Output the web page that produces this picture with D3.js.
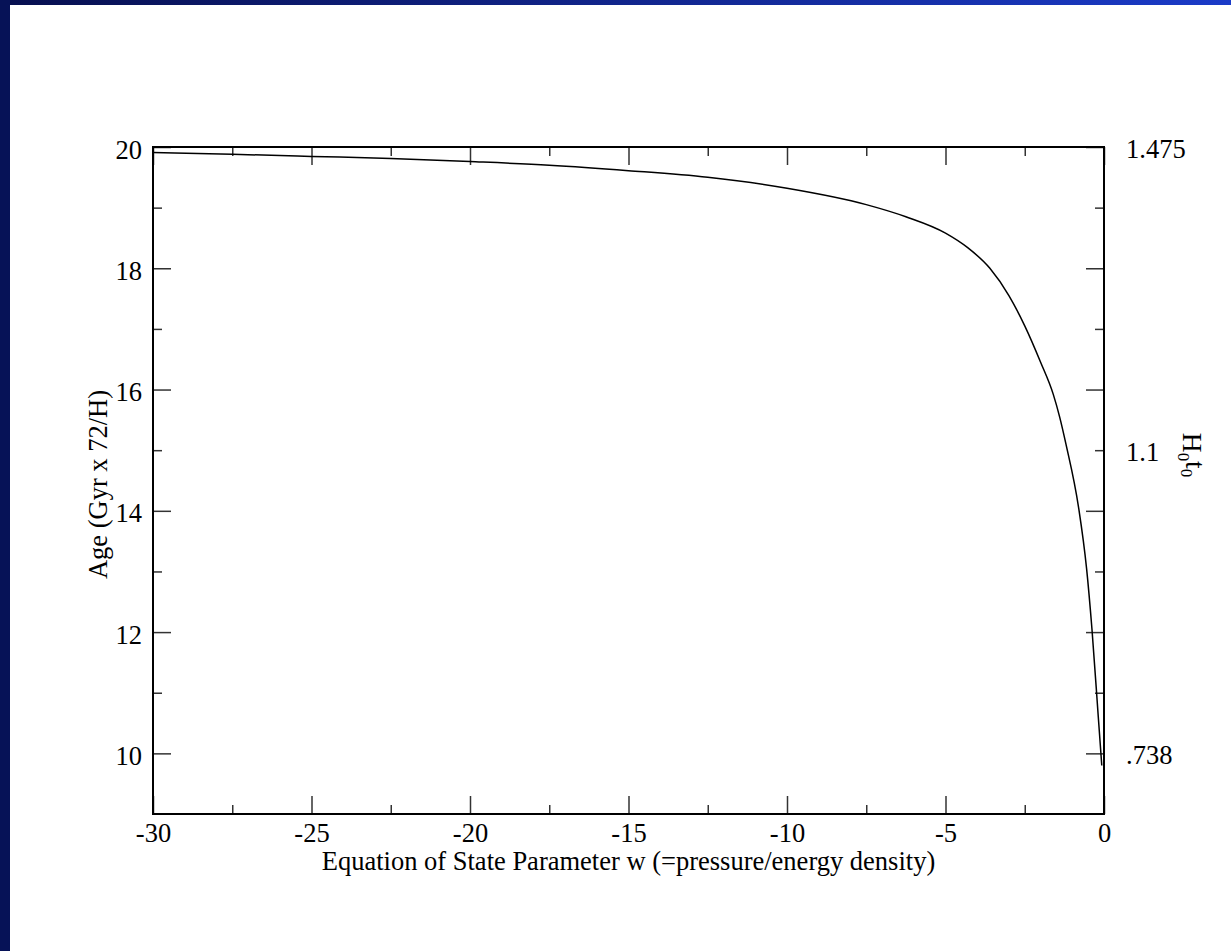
<!DOCTYPE html>
<html>
<head>
<meta charset="utf-8">
<script src="https://cdn.jsdelivr.net/npm/d3@7"></script>
<style>
  html, body { margin: 0; padding: 0; background: #ffffff; }
  svg { display: block; }
  text { font-family: "Liberation Serif", "Times New Roman", serif; fill: #000; }
</style>
</head>
<body>
<svg id="chart" width="1231" height="951"></svg>
<script>
// Equation-of-state parameter w and the resulting age of the universe
const wValues   = [-30, -27.5, -25, -22.5, -20, -17.5, -15, -12.5, -10, -7.5, -6.25, -5, -4.3, -3.6, -3, -2.5, -2, -1.6, -1.4, -1.2, -0.8, -0.55, -0.38, -0.18, -0.07];
const ageValues = [19.91, 19.88, 19.845, 19.81, 19.76, 19.70, 19.61, 19.50, 19.32, 19.05, 18.85, 18.58, 18.34, 18.0, 17.55, 17.05, 16.45, 15.92, 15.55, 15.1, 14.05, 13.05, 12.05, 10.6, 9.8];

// Axis ticks
const xMajorTicks = [-30, -25, -20, -15, -10, -5, 0];
const xMinorTicks = [-27.5, -22.5, -17.5, -12.5, -7.5, -2.5];
const yMajorTicks = [10, 12, 14, 16, 18, 20];
const yMinorTicks = [11, 13, 15, 17, 19];

// Right-hand axis: H0*t0 labels at the matching ages
const rightTickAges   = [20, 15, 10];
const rightTickLabels = ["1.475", "1.1", ".738"];

const xTitle = "Equation of State Parameter w (=pressure/energy density)";
const yTitle = "Age (Gyr x 72/H)";

const svg = d3.select("#chart");
const W = 1231, H = 951;

// Slide background: dark left strip and gradient top strip
const defs = svg.append("defs");
const grad = defs.append("linearGradient").attr("id", "topbar").attr("x1", "0").attr("x2", "1").attr("y1", "0").attr("y2", "0");
grad.append("stop").attr("offset", "0").attr("stop-color", "#070f4f");
grad.append("stop").attr("offset", "1").attr("stop-color", "#1b3bc8");
svg.append("rect").attr("width", W).attr("height", H).attr("fill", "#ffffff");
svg.append("rect").attr("x", 0).attr("y", 0).attr("width", W).attr("height", 5).attr("fill", "url(#topbar)");
svg.append("rect").attr("x", 0).attr("y", 0).attr("width", 10).attr("height", H).attr("fill", "#061257");

const plot = { left: 153, right: 1104, top: 147, bottom: 814 };
const x = d3.scaleLinear().domain([-30, 0]).range([plot.left, plot.right]);
const y = d3.scaleLinear().domain([9, 20]).range([plot.bottom, plot.top]);

const FS = 26.5;
const MAJOR = 18, MINOR = 9;

function styleAxis(g) {
  g.select(".domain").remove();
  g.selectAll(".tick line").attr("stroke", "#333").attr("stroke-width", 1.5);
  g.selectAll("text").style("font-family", "Liberation Serif, serif").style("font-size", FS + "px").attr("fill", "#000");
}

// Bottom axis with labels
svg.append("g").attr("transform", `translate(0,${plot.bottom})`)
  .call(d3.axisBottom(x).tickValues(xMajorTicks).tickSize(-MAJOR).tickPadding(9).tickFormat(d => String(d)))
  .call(styleAxis);
svg.append("g").attr("transform", `translate(0,${plot.bottom})`)
  .call(d3.axisBottom(x).tickValues(xMinorTicks).tickSize(-MINOR).tickFormat(""))
  .call(styleAxis);

// Top axis, ticks only
svg.append("g").attr("transform", `translate(0,${plot.top})`)
  .call(d3.axisTop(x).tickValues(xMajorTicks).tickSize(-MAJOR).tickFormat(""))
  .call(styleAxis);
svg.append("g").attr("transform", `translate(0,${plot.top})`)
  .call(d3.axisTop(x).tickValues(xMinorTicks).tickSize(-MINOR).tickFormat(""))
  .call(styleAxis);

// Left axis with labels
const leftAxis = svg.append("g").attr("transform", `translate(${plot.left},0)`)
  .call(d3.axisLeft(y).tickValues(yMajorTicks).tickSize(-MAJOR).tickPadding(11).tickFormat(d => String(d)))
  .call(styleAxis);
leftAxis.selectAll("text").attr("dy", "0.42em");
svg.append("g").attr("transform", `translate(${plot.left},0)`)
  .call(d3.axisLeft(y).tickValues(yMinorTicks).tickSize(-MINOR).tickFormat(""))
  .call(styleAxis);

// Right axis ticks
svg.append("g").attr("transform", `translate(${plot.right},0)`)
  .call(d3.axisRight(y).tickValues(yMajorTicks).tickSize(-MAJOR).tickFormat(""))
  .call(styleAxis);
svg.append("g").attr("transform", `translate(${plot.right},0)`)
  .call(d3.axisRight(y).tickValues(yMinorTicks).tickSize(-MINOR).tickFormat(""))
  .call(styleAxis);

// Right axis labels (H0 t0)
const rightLabels = svg.append("g").attr("transform", `translate(${plot.right},0)`)
  .call(d3.axisRight(y).tickValues(rightTickAges).tickSize(0).tickPadding(22)
    .tickFormat((d, i) => rightTickLabels[i]))
  .call(styleAxis);
rightLabels.selectAll("text").attr("dy", "0.4em");

// Frame
svg.append("rect")
  .attr("x", plot.left).attr("y", plot.top)
  .attr("width", plot.right - plot.left).attr("height", plot.bottom - plot.top)
  .attr("fill", "none").attr("stroke", "#000").attr("stroke-width", 2);

// Age curve
const line = d3.line()
  .x((d, i) => x(wValues[i]))
  .y(d => y(d))
  .curve(d3.curveMonotoneX);
svg.append("path")
  .datum(ageValues)
  .attr("d", line)
  .attr("fill", "none")
  .attr("stroke", "#000")
  .attr("stroke-width", 1.5);

// Axis titles
svg.append("text")
  .attr("x", (plot.left + plot.right) / 2).attr("y", 870)
  .attr("text-anchor", "middle")
  .style("font-size", FS + "px")
  .text(xTitle);

svg.append("text")
  .attr("transform", `translate(107,${(plot.top + plot.bottom) / 2 + 4}) rotate(-90)`)
  .attr("text-anchor", "middle")
  .style("font-size", FS + "px")
  .text(yTitle);

const rt = svg.append("text")
  .attr("transform", `translate(1183,455) rotate(90)`)
  .attr("text-anchor", "middle")
  .style("font-size", (FS + 1) + "px");
rt.append("tspan").text("H");
rt.append("tspan").attr("dy", "0.3em").style("font-size", "17px").text("0");
rt.append("tspan").attr("dy", "-0.3em").text("t");
rt.append("tspan").attr("dy", "0.3em").style("font-size", "17px").text("0");
</script>
</body>
</html>
